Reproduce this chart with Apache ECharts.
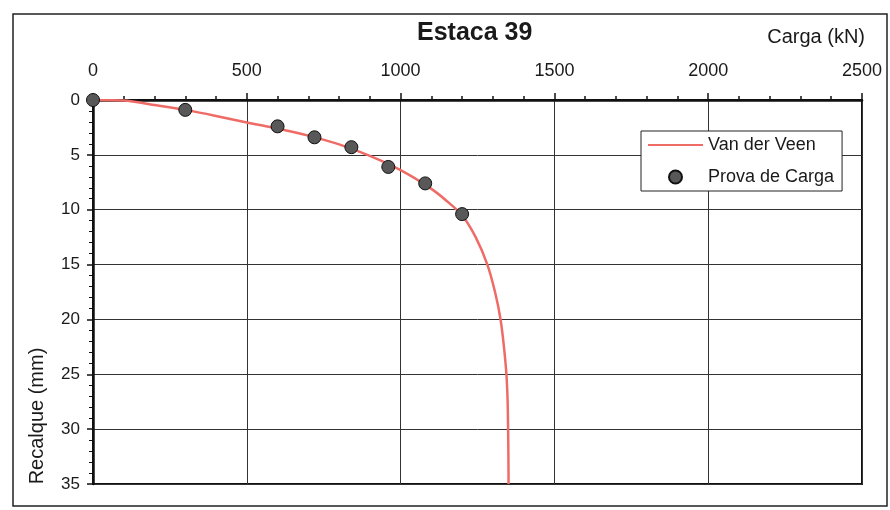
<!DOCTYPE html>
<html>
<head>
<meta charset="utf-8">
<script src="https://cdn.jsdelivr.net/npm/echarts@6/dist/echarts.min.js"></script>
<style>
html,body{margin:0;padding:0;background:#fff;}
#c{width:890px;height:510px;}
</style>
</head>
<body>
<div id="c"></div>
<script>
// Data
var provaCarga = [0, 300, 600, 720, 840, 960, 1080, 1200];          // kN
var provaRecalque = [0, 0.9, 2.4, 3.4, 4.3, 6.1, 7.6, 10.4];        // mm
var veenCarga = [0, 100, 200, 300, 400, 500, 600, 700, 800, 900, 1000, 1100, 1150, 1200, 1244, 1282, 1307, 1325, 1336, 1344, 1348, 1349.5, 1350.5, 1351];
var veenRecalque = [0, 0.05, 0.45, 0.9, 1.45, 2.05, 2.6, 3.25, 4.05, 5.1, 6.4, 8.1, 9.2, 10.5, 12.5, 15, 17.5, 20, 22.5, 25, 27.5, 30, 32.5, 35];
var xTicks = [0, 500, 1000, 1500, 2000, 2500];
var yTicks = [0, 5, 10, 15, 20, 25, 30, 35];

var FONT = "'Liberation Sans', Arial, sans-serif";
var chart = echarts.init(document.getElementById('c'), null, {renderer: 'canvas'});

var veenData = veenCarga.map(function (x, i) { return [x, veenRecalque[i]]; });
var provaData = provaCarga.map(function (x, i) { return [x, provaRecalque[i]]; });

chart.setOption({
  animation: false,
  backgroundColor: '#fff',
  textStyle: {fontFamily: FONT},
  title: [
    {text: 'Estaca 39', left: 417, top: 21, padding: 0,
     textStyle: {fontFamily: FONT, fontSize: 25, fontWeight: 'bold', color: '#1a1a1a'}},
    {text: 'Carga (kN)', right: 25, top: 27, padding: 0,
     textStyle: {fontFamily: FONT, fontSize: 20, fontWeight: 'normal', color: '#1a1a1a'}}
  ],
  grid: {left: 93, top: 100, width: 769, height: 384, show: true,
         borderColor: '#111', borderWidth: 2, backgroundColor: 'transparent'},
  legend: {
    orient: 'vertical', left: 641, top: 131,
    itemWidth: 55, itemHeight: 13, itemGap: 14,
    padding: [5, 8, 5, 6],
    backgroundColor: '#fff', borderColor: '#222', borderWidth: 1, borderRadius: 0,
    textStyle: {fontFamily: FONT, fontSize: 18, color: '#1a1a1a'},
    data: [
      {name: 'Van der Veen', itemStyle: {opacity: 0, color: 'transparent', borderWidth: 0}},
      {name: 'Prova de Carga', icon: 'circle'}
    ]
  },
  xAxis: {
    type: 'value', position: 'top', min: xTicks[0], max: xTicks[xTicks.length - 1],
    interval: xTicks[1] - xTicks[0],
    axisLine: {show: true, lineStyle: {color: '#111', width: 2.5}},
    axisTick: {show: true, inside: false, length: 7, lineStyle: {color: '#111', width: 1.5}},
    minorTick: {show: true, splitNumber: 5, length: 4, lineStyle: {color: '#111', width: 1.5}},
    splitLine: {show: true, lineStyle: {color: '#333', width: 1}},
    axisLabel: {fontFamily: FONT, fontSize: 18, color: '#1a1a1a', margin: 20,
                formatter: function (v) { return String(v); }}
  },
  yAxis: {
    type: 'value', inverse: true, min: yTicks[0], max: yTicks[yTicks.length - 1],
    interval: yTicks[1] - yTicks[0],
    axisLine: {show: true, lineStyle: {color: '#111', width: 2.5}},
    axisTick: {show: true, inside: false, length: 6, lineStyle: {color: '#111', width: 1.5}},
    minorTick: {show: true, splitNumber: 5, length: 4, lineStyle: {color: '#111', width: 1}},
    splitLine: {show: true, lineStyle: {color: '#333', width: 1}},
    axisLabel: {fontFamily: FONT, fontSize: 17, color: '#1a1a1a', margin: 13,
                formatter: function (v) { return String(v); }}
  },
  graphic: [
    {type: 'rect', shape: {x: 13, y: 14, width: 874, height: 492}, z: -1,
     style: {fill: 'none', stroke: '#222', lineWidth: 1.5}},
    {type: 'text', x: 37, y: 416, rotation: Math.PI / 2,
     style: {text: 'Recalque (mm)', fontFamily: FONT, fontSize: 20, fill: '#1a1a1a',
             textAlign: 'center', textVerticalAlign: 'middle'}}
  ],
  series: [
    {name: 'Van der Veen', type: 'line', data: veenData, symbol: 'none', smooth: 0.25,
     lineStyle: {color: '#ef6b66', width: 2.5}, itemStyle: {color: '#ef6b66'}, z: 2},
    {name: 'Prova de Carga', type: 'scatter', data: provaData, symbol: 'circle', symbolSize: 13,
     itemStyle: {color: '#585858', borderColor: '#111', borderWidth: 1, opacity: 1}, z: 3}
  ]
});
</script>
</body>
</html>
